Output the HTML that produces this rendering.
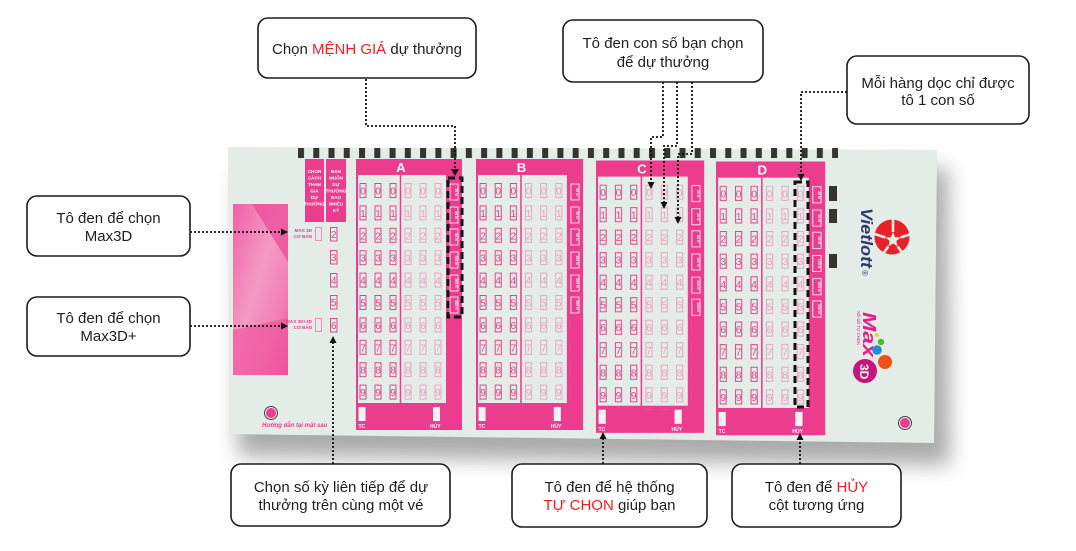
<!DOCTYPE html>
<html><head><meta charset="utf-8">
<style>
html,body{margin:0;padding:0;background:#fff;}
svg{display:block;}
.box{fill:#fff;stroke:#1c1c1c;stroke-width:1.6;}
.ct{font-family:"Liberation Sans",Arial,sans-serif;font-size:15px;fill:#1e1e1e;text-anchor:middle;}
.red{fill:#ff1a1a;}
.dot{fill:none;stroke:#111;stroke-width:1.8;stroke-dasharray:2 2;}
.dash{fill:none;stroke:#111;stroke-width:3;stroke-dasharray:7 4;}
.ar{fill:#111;}
.dg{font-family:"Liberation Sans",Arial,sans-serif;font-size:10px;text-anchor:middle;}
.d1{fill:#e0468c;}
.d2{fill:#e9a2c2;}
.tn{font-family:"Liberation Sans",Arial,sans-serif;font-size:3.5px;fill:#fff;font-weight:bold;text-anchor:middle;}
.wl{font-family:"Liberation Sans",Arial,sans-serif;font-size:5px;fill:#fff;font-weight:bold;}
.hl{font-family:"Liberation Sans",Arial,sans-serif;font-size:4.6px;fill:#fff;font-weight:bold;text-anchor:middle;}
.pl{font-family:"Liberation Sans",Arial,sans-serif;font-size:4.6px;fill:#e83a8e;font-weight:bold;text-anchor:end;}
.lt{font-family:"Liberation Sans",Arial,sans-serif;font-size:13px;fill:#fff;font-weight:bold;text-anchor:middle;}
</style></head><body>
<svg width="1076" height="551" viewBox="0 0 1076 551">
<defs>
 <filter id="sh" x="-10%" y="-20%" width="120%" height="150%"><feGaussianBlur stdDeviation="10"/></filter>
 <pattern id="pd" patternUnits="userSpaceOnUse" x="3.5" y="24" width="15" height="22.4"><rect x="0.5" y="0.5" width="6" height="14" fill="none" stroke="#e0468c" stroke-width="1"/></pattern>
 <pattern id="pl" patternUnits="userSpaceOnUse" x="3.5" y="24" width="15" height="22.4"><rect x="0.5" y="0.5" width="6" height="14" fill="none" stroke="#eaa6c5" stroke-width="1"/></pattern>
 <pattern id="tk" patternUnits="userSpaceOnUse" x="298" y="148" width="15.26" height="10"><rect width="6" height="10" fill="#34352f"/></pattern>
 <linearGradient id="lp" x1="0" y1="0" x2="1" y2="1">
  <stop offset="0" stop-color="#ef5fa5"/><stop offset=".45" stop-color="#f49bc5"/><stop offset=".75" stop-color="#f27db4"/><stop offset="1" stop-color="#ee4a98"/>
 </linearGradient>
</defs>

<!-- shadow + ticket -->
<polygon points="238,172 948,168 950,465 238,456" fill="#666" opacity=".55" filter="url(#sh)"/>
<polygon points="228,147 937,150 934,443 229,434" fill="#e4ece7"/>

<!-- top ticks -->
<rect x="298" y="148" width="540" height="10" fill="url(#tk)"/>
<!-- right marks -->
<rect x="829" y="186" width="8" height="15" fill="#34352f"/>
<rect x="829" y="209" width="8" height="14" fill="#34352f"/>
<rect x="829" y="254" width="8" height="14" fill="#34352f"/>

<!-- left pink panel -->
<rect x="233" y="204" width="55" height="171" fill="url(#lp)"/>
<polygon points="252,204 288,204 288,262" fill="#ee4b99" opacity=".75"/>
<polygon points="233,330 288,318 288,375 233,375" fill="#ef55a0" opacity=".7"/>

<!-- header boxes -->
<rect x="305" y="159" width="19" height="63" fill="#ec3c8e"/>
<text class="hl" x="314.5" y="173">CHỌN</text>
<text class="hl" x="314.5" y="179.5">CÁCH</text>
<text class="hl" x="314.5" y="186">THAM</text>
<text class="hl" x="314.5" y="192.5">GIA</text>
<text class="hl" x="314.5" y="199">DỰ</text>
<text class="hl" x="314.5" y="205.5">THƯỞNG</text>
<rect x="326" y="159" width="20" height="63" fill="#ec3c8e"/>
<text class="hl" x="336" y="173">BẠN</text>
<text class="hl" x="336" y="179.5">MUỐN</text>
<text class="hl" x="336" y="186">DỰ</text>
<text class="hl" x="336" y="192.5">THƯỞNG</text>
<text class="hl" x="336" y="199">BAO</text>
<text class="hl" x="336" y="205.5">NHIÊU</text>
<text class="hl" x="336" y="212">KỲ</text>

<text class="pl" x="312" y="232">MAX 3D</text>
<text class="pl" x="312" y="238">CƠ BẢN</text>
<rect x="315.5" y="227.5" width="6" height="13" fill="none" stroke="#ee8fbb" stroke-width="1"/>
<text class="pl" x="312" y="323">MAX 3D+3D</text>
<text class="pl" x="312" y="329">CƠ BẢN</text>
<rect x="315.5" y="318.5" width="6" height="13" fill="none" stroke="#ee8fbb" stroke-width="1"/>

<g fill="none" stroke="#e0468c" stroke-width="1">
<rect x="330.5" y="227.5" width="6.5" height="13.5"/>
<rect x="330.5" y="250.5" width="6.5" height="13.5"/>
<rect x="330.5" y="273.5" width="6.5" height="13.5"/>
<rect x="330.5" y="295.5" width="6.5" height="13.5"/>
<rect x="330.5" y="318.5" width="6.5" height="13.5"/>
</g>
<text class="dg d1" x="333.8 333.8 333.8 333.8 333.8" y="238 261 284 306 329">23456</text>

<!-- bottom-left circle + text -->
<circle cx="271" cy="413" r="6.5" fill="none" stroke="#444" stroke-width="1"/>
<circle cx="271" cy="413" r="5" fill="#ee3d8f"/>
<text x="262" y="427" font-family="Liberation Sans, Arial, sans-serif" font-size="6" font-style="italic" font-weight="bold" fill="#e8408f">Hướng dẫn tại mặt sau</text>
<circle cx="905" cy="423" r="6.5" fill="none" stroke="#444" stroke-width="1"/>
<circle cx="905" cy="423" r="5" fill="#ee3d8f"/>

<!-- PANEL A -->
<g transform="translate(356,159)">
<rect x="0" y="0" width="106" height="271" fill="#ec3c8e"/>
<rect x="2" y="16" width="88" height="228" fill="#e4ece7"/>
<line x1="44.5" y1="16" x2="44.5" y2="244" stroke="#ec3c8e" stroke-width="1.5"/>
<rect x="3.5" y="24" width="45" height="224" fill="url(#pd)"/>
<rect x="48.5" y="24" width="45" height="224" fill="url(#pl)"/>
<text class="dg d1" x="7 7 7 7 7 7 7 7 7 7" y="35.5 57.9 80.3 102.7 125.1 147.5 169.9 192.3 214.7 237.1">0123456789</text>
<text class="dg d1" x="22 22 22 22 22 22 22 22 22 22" y="35.5 57.9 80.3 102.7 125.1 147.5 169.9 192.3 214.7 237.1">0123456789</text>
<text class="dg d1" x="37 37 37 37 37 37 37 37 37 37" y="35.5 57.9 80.3 102.7 125.1 147.5 169.9 192.3 214.7 237.1">0123456789</text>
<text class="dg d2" x="52 52 52 52 52 52 52 52 52 52" y="35.5 57.9 80.3 102.7 125.1 147.5 169.9 192.3 214.7 237.1">0123456789</text>
<text class="dg d2" x="67 67 67 67 67 67 67 67 67 67" y="35.5 57.9 80.3 102.7 125.1 147.5 169.9 192.3 214.7 237.1">0123456789</text>
<text class="dg d2" x="82 82 82 82 82 82 82 82 82 82" y="35.5 57.9 80.3 102.7 125.1 147.5 169.9 192.3 214.7 237.1">0123456789</text>
<g fill="none" stroke="#fff" stroke-width=".8"><rect x="94" y="25" width="8" height="16"/><rect x="94" y="48" width="8" height="16"/><rect x="94" y="70" width="8" height="16"/><rect x="94" y="93" width="8" height="16"/><rect x="94" y="116" width="8" height="16"/><rect x="94" y="138" width="8" height="16"/></g>
<text class="tn" transform="translate(99,33) rotate(90)">20 N</text>
<text class="tn" transform="translate(99,56) rotate(90)">30 N</text>
<text class="tn" transform="translate(99,78) rotate(90)">50 N</text>
<text class="tn" transform="translate(99,101) rotate(90)">100 N</text>
<text class="tn" transform="translate(99,124) rotate(90)">200 N</text>
<text class="tn" transform="translate(99,146) rotate(90)">500 N</text>
<rect x="2.5" y="248" width="7" height="14" fill="#f2f2f2"/>
<rect x="77" y="248" width="7" height="14" fill="#f2f2f2"/>
<text class="wl" x="2.5" y="269">TC</text>
<text class="wl" x="74" y="269">HỦY</text>
<text class="lt" x="45" y="13">A</text>
</g>

<!-- PANEL B -->
<g transform="translate(476,159) scale(1.01,1)">
<rect x="0" y="0" width="106" height="271" fill="#ec3c8e"/>
<rect x="2" y="16" width="88" height="228" fill="#e4ece7"/>
<line x1="44.5" y1="16" x2="44.5" y2="244" stroke="#ec3c8e" stroke-width="1.5"/>
<rect x="3.5" y="24" width="45" height="224" fill="url(#pd)"/>
<rect x="48.5" y="24" width="45" height="224" fill="url(#pl)"/>
<text class="dg d1" x="7 7 7 7 7 7 7 7 7 7" y="35.5 57.9 80.3 102.7 125.1 147.5 169.9 192.3 214.7 237.1">0123456789</text>
<text class="dg d1" x="22 22 22 22 22 22 22 22 22 22" y="35.5 57.9 80.3 102.7 125.1 147.5 169.9 192.3 214.7 237.1">0123456789</text>
<text class="dg d1" x="37 37 37 37 37 37 37 37 37 37" y="35.5 57.9 80.3 102.7 125.1 147.5 169.9 192.3 214.7 237.1">0123456789</text>
<text class="dg d2" x="52 52 52 52 52 52 52 52 52 52" y="35.5 57.9 80.3 102.7 125.1 147.5 169.9 192.3 214.7 237.1">0123456789</text>
<text class="dg d2" x="67 67 67 67 67 67 67 67 67 67" y="35.5 57.9 80.3 102.7 125.1 147.5 169.9 192.3 214.7 237.1">0123456789</text>
<text class="dg d2" x="82 82 82 82 82 82 82 82 82 82" y="35.5 57.9 80.3 102.7 125.1 147.5 169.9 192.3 214.7 237.1">0123456789</text>
<g fill="none" stroke="#fff" stroke-width=".8"><rect x="94" y="25" width="8" height="16"/><rect x="94" y="48" width="8" height="16"/><rect x="94" y="70" width="8" height="16"/><rect x="94" y="93" width="8" height="16"/><rect x="94" y="116" width="8" height="16"/><rect x="94" y="138" width="8" height="16"/></g>
<text class="tn" transform="translate(99,33) rotate(90)">20 N</text>
<text class="tn" transform="translate(99,56) rotate(90)">30 N</text>
<text class="tn" transform="translate(99,78) rotate(90)">50 N</text>
<text class="tn" transform="translate(99,101) rotate(90)">100 N</text>
<text class="tn" transform="translate(99,124) rotate(90)">200 N</text>
<text class="tn" transform="translate(99,146) rotate(90)">500 N</text>
<rect x="2.5" y="248" width="7" height="14" fill="#f2f2f2"/>
<rect x="77" y="248" width="7" height="14" fill="#f2f2f2"/>
<text class="wl" x="2.5" y="269">TC</text>
<text class="wl" x="74" y="269">HỦY</text>
<text class="lt" x="45" y="13">B</text>
</g>

<!-- PANEL C -->
<g transform="translate(596,160.5) scale(1.02,1.005)">
<rect x="0" y="0" width="106" height="271" fill="#ec3c8e"/>
<rect x="2" y="16" width="88" height="228" fill="#e4ece7"/>
<line x1="44.5" y1="16" x2="44.5" y2="244" stroke="#ec3c8e" stroke-width="1.5"/>
<rect x="3.5" y="24" width="45" height="224" fill="url(#pd)"/>
<rect x="48.5" y="24" width="45" height="224" fill="url(#pl)"/>
<text class="dg d1" x="7 7 7 7 7 7 7 7 7 7" y="35.5 57.9 80.3 102.7 125.1 147.5 169.9 192.3 214.7 237.1">0123456789</text>
<text class="dg d1" x="22 22 22 22 22 22 22 22 22 22" y="35.5 57.9 80.3 102.7 125.1 147.5 169.9 192.3 214.7 237.1">0123456789</text>
<text class="dg d1" x="37 37 37 37 37 37 37 37 37 37" y="35.5 57.9 80.3 102.7 125.1 147.5 169.9 192.3 214.7 237.1">0123456789</text>
<text class="dg d2" x="52 52 52 52 52 52 52 52 52 52" y="35.5 57.9 80.3 102.7 125.1 147.5 169.9 192.3 214.7 237.1">0123456789</text>
<text class="dg d2" x="67 67 67 67 67 67 67 67 67 67" y="35.5 57.9 80.3 102.7 125.1 147.5 169.9 192.3 214.7 237.1">0123456789</text>
<text class="dg d2" x="82 82 82 82 82 82 82 82 82 82" y="35.5 57.9 80.3 102.7 125.1 147.5 169.9 192.3 214.7 237.1">0123456789</text>
<g fill="none" stroke="#fff" stroke-width=".8"><rect x="94" y="25" width="8" height="16"/><rect x="94" y="48" width="8" height="16"/><rect x="94" y="70" width="8" height="16"/><rect x="94" y="93" width="8" height="16"/><rect x="94" y="116" width="8" height="16"/><rect x="94" y="138" width="8" height="16"/></g>
<text class="tn" transform="translate(99,33) rotate(90)">20 N</text>
<text class="tn" transform="translate(99,56) rotate(90)">30 N</text>
<text class="tn" transform="translate(99,78) rotate(90)">50 N</text>
<text class="tn" transform="translate(99,101) rotate(90)">100 N</text>
<text class="tn" transform="translate(99,124) rotate(90)">200 N</text>
<text class="tn" transform="translate(99,146) rotate(90)">500 N</text>
<rect x="2.5" y="248" width="7" height="14" fill="#f2f2f2"/>
<rect x="77" y="248" width="7" height="14" fill="#f2f2f2"/>
<text class="wl" x="2.5" y="269">TC</text>
<text class="wl" x="74" y="269">HỦY</text>
<text class="lt" x="45" y="13">C</text>
</g>

<!-- PANEL D -->
<g transform="translate(716,161.5) scale(1.03,1.01)">
<rect x="0" y="0" width="106" height="271" fill="#ec3c8e"/>
<rect x="2" y="16" width="88" height="228" fill="#e4ece7"/>
<line x1="44.5" y1="16" x2="44.5" y2="244" stroke="#ec3c8e" stroke-width="1.5"/>
<rect x="3.5" y="24" width="45" height="224" fill="url(#pd)"/>
<rect x="48.5" y="24" width="45" height="224" fill="url(#pl)"/>
<text class="dg d1" x="7 7 7 7 7 7 7 7 7 7" y="35.5 57.9 80.3 102.7 125.1 147.5 169.9 192.3 214.7 237.1">0123456789</text>
<text class="dg d1" x="22 22 22 22 22 22 22 22 22 22" y="35.5 57.9 80.3 102.7 125.1 147.5 169.9 192.3 214.7 237.1">0123456789</text>
<text class="dg d1" x="37 37 37 37 37 37 37 37 37 37" y="35.5 57.9 80.3 102.7 125.1 147.5 169.9 192.3 214.7 237.1">0123456789</text>
<text class="dg d2" x="52 52 52 52 52 52 52 52 52 52" y="35.5 57.9 80.3 102.7 125.1 147.5 169.9 192.3 214.7 237.1">0123456789</text>
<text class="dg d2" x="67 67 67 67 67 67 67 67 67 67" y="35.5 57.9 80.3 102.7 125.1 147.5 169.9 192.3 214.7 237.1">0123456789</text>
<text class="dg d2" x="82 82 82 82 82 82 82 82 82 82" y="35.5 57.9 80.3 102.7 125.1 147.5 169.9 192.3 214.7 237.1">0123456789</text>
<g fill="none" stroke="#fff" stroke-width=".8"><rect x="94" y="25" width="8" height="16"/><rect x="94" y="48" width="8" height="16"/><rect x="94" y="70" width="8" height="16"/><rect x="94" y="93" width="8" height="16"/><rect x="94" y="116" width="8" height="16"/><rect x="94" y="138" width="8" height="16"/></g>
<text class="tn" transform="translate(99,33) rotate(90)">20 N</text>
<text class="tn" transform="translate(99,56) rotate(90)">30 N</text>
<text class="tn" transform="translate(99,78) rotate(90)">50 N</text>
<text class="tn" transform="translate(99,101) rotate(90)">100 N</text>
<text class="tn" transform="translate(99,124) rotate(90)">200 N</text>
<text class="tn" transform="translate(99,146) rotate(90)">500 N</text>
<rect x="2.5" y="248" width="7" height="14" fill="#f2f2f2"/>
<rect x="77" y="248" width="7" height="14" fill="#f2f2f2"/>
<text class="wl" x="2.5" y="269">TC</text>
<text class="wl" x="74" y="269">HỦY</text>
<text class="lt" x="45" y="13">D</text>
</g>

<!-- Vietlott logo -->
<text transform="translate(861,208) rotate(90)" font-family="Liberation Sans, Arial, sans-serif" font-size="17" font-weight="bold" font-style="italic" fill="#2d3a6c" textLength="60" lengthAdjust="spacingAndGlyphs">Vietlott</text>
<text transform="translate(862,270) rotate(90)" font-family="Liberation Sans, Arial, sans-serif" font-size="8" fill="#2d3a6c">®</text>
<circle cx="892" cy="237" r="17.5" fill="#e8202a"/>
<polygon points="893,232 895.1,237.2 900.6,237.5 896.3,241.1 897.7,246.5 893,243.5 888.3,246.5 889.7,241.1 885.4,237.5 890.9,237.2" fill="#e4ece7"/>
<g stroke="#e4ece7" stroke-width="2.6">
<line x1="893" y1="232" x2="893" y2="218"/>
<line x1="900.6" y1="237.5" x2="912" y2="233.8"/>
<line x1="897.7" y1="246.5" x2="904.5" y2="256"/>
<line x1="888.3" y1="246.5" x2="881.5" y2="256"/>
<line x1="885.4" y1="237.5" x2="874" y2="233.8"/>
</g>

<!-- Max 3D logo -->
<text transform="translate(863,312) rotate(90)" font-family="Liberation Sans, Arial, sans-serif" font-size="18" font-weight="bold" font-style="italic" fill="#e2208c" textLength="45" lengthAdjust="spacingAndGlyphs">Max</text>
<text transform="translate(857,311) rotate(90)" font-family="Liberation Sans, Arial, sans-serif" font-size="4.5" fill="#c81c78" textLength="34" lengthAdjust="spacingAndGlyphs">XỔ SỐ TỰ CHỌN</text>
<circle cx="877" cy="335" r="2" fill="#f2d21a"/>
<circle cx="881" cy="342" r="3.2" fill="#4cbb2a"/>
<circle cx="877" cy="350" r="4.8" fill="#1f8fe0"/>
<circle cx="885" cy="362" r="7" fill="#f0501a"/>
<circle cx="865" cy="371" r="12" fill="#c4157a"/>
<text transform="translate(860,364) rotate(90)" font-family="Liberation Sans, Arial, sans-serif" font-size="12" font-weight="bold" fill="#fff">3D</text>

<!-- highlight dashed rects -->
<rect class="dash" x="448" y="178" width="14" height="139"/>
<rect class="dash" x="795" y="182" width="13" height="225"/>

<!-- connectors -->
<path class="dot" d="M366,79 V126 H455 V170"/>
<polygon class="ar" points="451,169 459,169 455,176"/>

<path class="dot" d="M663,82 V137 H651 V183"/>
<polygon class="ar" points="647.5,182 654.5,182 651,189"/>
<path class="dot" d="M677,82 V146 H664 V203"/>
<polygon class="ar" points="660.5,202 667.5,202 664,209"/>
<path class="dot" d="M692,82 V154 H678 V218"/>
<polygon class="ar" points="674.5,217 681.5,217 678,224"/>

<path class="dot" d="M847,92 H801 V175"/>
<polygon class="ar" points="797.5,174 804.5,174 801,181"/>

<path class="dot" d="M190,232 H282"/>
<polygon class="ar" points="281,228.5 281,235.5 288,232"/>
<path class="dot" d="M190,326 H282"/>
<polygon class="ar" points="281,322.5 281,329.5 288,326"/>

<path class="dot" d="M333,464 V342"/>
<polygon class="ar" points="329.5,343 336.5,343 333,336"/>
<path class="dot" d="M603,464 V438"/>
<polygon class="ar" points="599.5,439 606.5,439 603,432"/>
<path class="dot" d="M800,464 V439"/>
<polygon class="ar" points="796.5,440 803.5,440 800,433"/>

<!-- callouts -->
<rect class="box" x="258" y="18" width="218" height="60" rx="10"/>
<text class="ct" x="367" y="54">Chọn <tspan class="red">MỆNH GIÁ</tspan> dự thưởng</text>

<rect class="box" x="563" y="20" width="200" height="62" rx="10"/>
<text class="ct" x="663" y="48">Tô đen con số bạn chọn</text>
<text class="ct" x="663" y="67">để dự thưởng</text>

<rect class="box" x="847" y="56" width="182" height="68" rx="10"/>
<text class="ct" x="938" y="88">Mỗi hàng dọc chỉ được</text>
<text class="ct" x="938" y="105">tô 1 con số</text>

<rect class="box" x="27" y="196" width="163" height="60" rx="10"/>
<text class="ct" x="108.5" y="223">Tô đen để chọn</text>
<text class="ct" x="108.5" y="241">Max3D</text>

<rect class="box" x="27" y="297" width="163" height="59" rx="10"/>
<text class="ct" x="108.5" y="323">Tô đen để chọn</text>
<text class="ct" x="108.5" y="341">Max3D+</text>

<rect class="box" x="231" y="464" width="219" height="62" rx="10"/>
<text class="ct" x="341" y="492">Chọn số kỳ liên tiếp để dự</text>
<text class="ct" x="341" y="510">thưởng trên cùng một vé</text>

<rect class="box" x="512" y="464" width="195" height="63" rx="10"/>
<text class="ct" x="609.5" y="492">Tô đen để hệ thống</text>
<text class="ct" x="609.5" y="510"><tspan class="red">TỰ CHỌN</tspan> giúp bạn</text>

<rect class="box" x="732" y="464" width="169" height="63" rx="10"/>
<text class="ct" x="816.5" y="492">Tô đen để <tspan class="red">HỦY</tspan></text>
<text class="ct" x="816.5" y="510">cột tương ứng</text>
</svg>
</body></html>
